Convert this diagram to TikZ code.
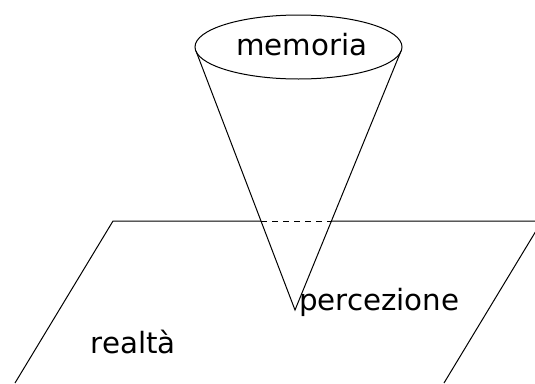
\documentclass[tikz,border=0pt]{standalone}
\usepackage{fontspec}
\setmainfont{DejaVu Sans}
\usetikzlibrary{shapes.geometric}
\begin{document}
\begin{tikzpicture}[x=1pt,y=-1pt,
  line/.style={line width=1pt,line join=miter},
  label/.style={inner sep=0pt,font=\fontsize{29.3}{31}\selectfont}]
\useasboundingbox (0,0) rectangle (535,383);
\clip (0,0) rectangle (535,383);
% plane (realta)
\coordinate (pa) at (113,221);
\coordinate (pb) at (542,221);
\coordinate (pc) at (444,383);
\coordinate (pd) at (15,383);
% cone
\node[draw,ellipse,line width=1pt,minimum width=207pt,minimum height=64pt,inner sep=0pt] (mem) at (298.5,47) {};
\node[label,anchor=base] (memt) at (302,55) {memoria};
\coordinate (apex) at (295,310);
\coordinate (tl) at (196,51);
\coordinate (tr) at (401,51);
\coordinate (xl) at (261,221);
\coordinate (xr) at (332,221);
\draw[line] (tl) -- (apex) -- (tr);
% plane edges
\draw[line] (xl) -- (pa) -- (pd);
\draw[line] (xr) -- (pb) -- (pc);
\draw[line,dash pattern=on 6pt off 5pt] (xl) -- (xr);
\node[label,anchor=base west] (perc) at (299,310) {percezione};
\node[label,anchor=base west] (real) at (90.5,353) {realtà};
\end{tikzpicture}
\end{document}
